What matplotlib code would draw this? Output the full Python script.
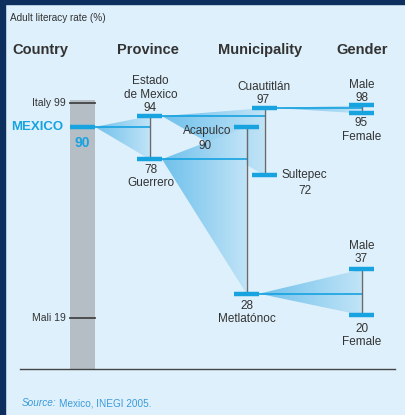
import numpy as np
import matplotlib.pyplot as plt
from matplotlib import font_manager
from matplotlib.colors import LinearSegmentedColormap
from matplotlib.patches import Polygon, Rectangle

# data (adult literacy rate, %)
country = "MEXICO"
country_value = 90
refs = ["Italy", "Mali"]
ref_values = [99, 19]

provinces = ["Estado\nde Mexico", "Guerrero"]
province_values = [94, 78]

# municipalities of Estado de Mexico, then of Guerrero
muni_estado = ["Cuautitlán", "Sultepec"]
muni_estado_values = [97, 72]
muni_guerrero = ["Acapulco", "Metlatónoc"]
muni_guerrero_values = [90, 28]

genders = ["Male", "Female"]
gender_cuautitlan = [98, 95]
gender_metlatonoc = [37, 20]

headers = ["Country", "Province", "Municipality", "Gender"]

# fonts / colours
names = {f.name for f in font_manager.fontManager.ttflist}
font = 'Liberation Sans Narrow' if 'Liberation Sans Narrow' in names else 'Liberation Sans'
plt.rcParams['font.family'] = [font, 'DejaVu Sans']

bg = '#def0fb'
navy = '#0c2f5e'
blue = '#17a2e0'
grey_line = '#6a6a6a'
txt = '#333333'
fan_cmap = LinearSegmentedColormap.from_list('fan', [bg, '#3aaae4'])

fig = plt.figure(figsize=(4.05, 4.15), dpi=100)
fig.patch.set_facecolor(bg)
ax = fig.add_axes([0, 0, 1, 1])
ax.set_facecolor(bg)
PX = 2.69  # pixels per percentage point
ax.set_xlim(0, 405)
ax.set_ylim(-(415 - 369) / PX, 369 / PX)
ax.axis('off')


def py(p):
    # pixel row -> axis value (layout only)
    return (369 - p) / PX


# column centres
xc, xp, xm_g, xm_e, xg = 82.5, 149.5, 246.5, 264.5, 361.5
hw = 12.5


def fan(x0, y0, x1, ytop, ybot, yline):
    tri = Polygon([[x0, y0], [x1, ytop], [x1, ybot]], closed=True,
                  facecolor='none', edgecolor='none')
    ax.add_patch(tri)
    grad = np.linspace(0.68, 0.18, 200).reshape(1, -1)
    im = ax.imshow(grad, extent=[x0, x1, min(ybot, y0), max(ytop, y0)],
                   cmap=fan_cmap, vmin=0, vmax=1, aspect='auto', zorder=1,
                   interpolation='bilinear')
    im.set_clip_path(tri)
    ax.plot([x0, x1], [yline, yline], color=blue, lw=1.2, zorder=2)


def marker(x, v):
    ax.plot([x - hw, x + hw], [v, v], color=blue, lw=3.2, solid_capstyle='butt', zorder=4)


# country bar
ax.bar(xc, 100, width=25, bottom=0, color='#b5bec5', zorder=1)
for name, v in zip(refs, ref_values):
    ax.plot([xc - hw, xc + hw], [v, v], color='#444444', lw=1.3, zorder=3)
    ax.text(66, v, f"{name} {v}", ha='right', va='center', fontsize=7.5, color=txt)
marker(xc, country_value)
ax.text(63, country_value, country, ha='right', va='center', fontsize=9.5,
        fontweight='bold', color=blue)
ax.text(xc, country_value - 6, str(country_value), ha='center', va='center',
        fontsize=10, fontweight='bold', color=blue, zorder=5)

# baseline
ax.plot([20, 395], [0, 0], color='#444444', lw=1, zorder=3)

# fans
fan(xc + hw, country_value, xp, province_values[0], province_values[1], country_value)
fan(xp + hw, province_values[0], xm_e, muni_estado_values[0], muni_estado_values[1],
    province_values[0])
fan(xp + hw, province_values[1], xm_g, muni_guerrero_values[0], muni_guerrero_values[1],
    province_values[1])
fan(xm_e + hw, muni_estado_values[0], xg, gender_cuautitlan[0], gender_cuautitlan[1],
    muni_estado_values[0])
fan(xm_g + hw, muni_guerrero_values[1], xg, gender_metlatonoc[0], gender_metlatonoc[1],
    muni_guerrero_values[1])

# vertical connectors
for x, vals in [(xp, province_values), (xm_e, muni_estado_values),
                (xm_g, muni_guerrero_values), (xg, gender_cuautitlan),
                (xg, gender_metlatonoc)]:
    ax.plot([x, x], vals, color=grey_line, lw=1, zorder=3)
    for v in vals:
        marker(x, v)

fs = 8.5
ls = 1.15
# province labels
ax.text(xp + 1, province_values[0] + 0.8, f"{provinces[0]}\n{province_values[0]}",
        ha='center', va='bottom', fontsize=fs, color=txt, linespacing=ls)
ax.text(xp + 1, province_values[1] - 1.8, f"{province_values[1]}\n{provinces[1]}",
        ha='center', va='top', fontsize=fs, color=txt, linespacing=ls)

# municipality labels
ax.text(xm_e - 1, muni_estado_values[0] + 0.7, f"{muni_estado[0]}\n{muni_estado_values[0]}",
        ha='center', va='bottom', fontsize=fs, color=txt, linespacing=ls)
ax.text(282, muni_estado_values[1], muni_estado[1], ha='left', va='center',
        fontsize=fs, color=txt)
ax.text(305, muni_estado_values[1] - 5.8, str(muni_estado_values[1]), ha='center',
        va='center', fontsize=fs, color=txt)
ax.text(231, muni_guerrero_values[0] - 1.4, muni_guerrero[0], ha='right', va='center',
        fontsize=fs, color=txt)
ax.text(205, muni_guerrero_values[0] - 7, str(muni_guerrero_values[0]), ha='center',
        va='center', fontsize=fs, color=txt)
ax.text(xm_g, muni_guerrero_values[1] - 2.4, f"{muni_guerrero_values[1]}\n{muni_guerrero[1]}",
        ha='center', va='top', fontsize=fs, color=txt, linespacing=ls)

# gender labels
for vals, up, down in ((gender_cuautitlan, 0.4, -1.4), (gender_metlatonoc, 1.6, -2.8)):
    ax.text(xg, vals[0] + up, f"{genders[0]}\n{vals[0]}", ha='center', va='bottom',
            fontsize=fs, color=txt, linespacing=ls)
    ax.text(xg, vals[1] + down, f"{vals[1]}\n{genders[1]}", ha='center', va='top',
            fontsize=fs, color=txt, linespacing=ls)

# headers
for x, h in zip([40.5, 147.5, 260, 362.5], headers):
    ax.text(x, py(50), h, ha='center', va='center', fontsize=10.5,
            fontweight='bold', color=txt)
ax.text(10, py(18), "Adult literacy rate (%)", ha='left', va='center',
        fontsize=7.2, color=txt)

# source
src = ax.text(22, py(403), "Source:", ha='left', va='center', fontsize=7.2,
              style='italic', color='#3a9ad9')
ax.annotate("Mexico, INEGI 2005.", xy=(1, 0.5), xycoords=src, xytext=(2, 0),
            textcoords='offset points', ha='left', va='center', fontsize=7.2,
            color='#3a9ad9')

# frame
fig.patches.append(Rectangle((0, 1 - 4 / 415), 1, 4 / 415, transform=fig.transFigure,
                             color=navy, zorder=10))
fig.patches.append(Rectangle((0, 0), 5 / 405, 1, transform=fig.transFigure,
                             color=navy, zorder=10))

fig.savefig('out.png', dpi=100, facecolor=bg)
